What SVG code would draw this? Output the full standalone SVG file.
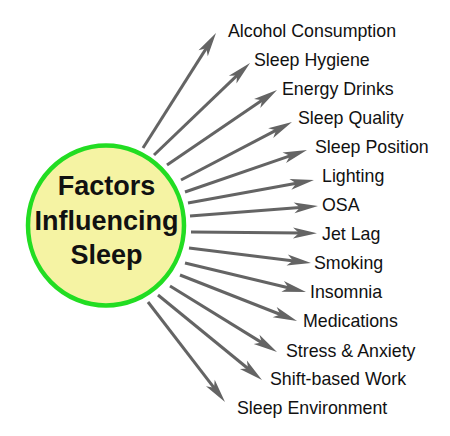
<svg xmlns="http://www.w3.org/2000/svg" width="450" height="436" viewBox="0 0 450 436">
<style>
.lbl{font-family:"Liberation Sans",Arial,sans-serif;font-size:17.8px;fill:#111}
.ctr{font-family:"Liberation Sans",Arial,sans-serif;font-size:27px;font-weight:bold;fill:#111;text-anchor:middle}
.arr{stroke:#646464;stroke-width:3;fill:none;marker-end:url(#ah)}
</style>
<defs>
<marker id="ah" markerUnits="userSpaceOnUse" viewBox="-10 -7 26 14" refX="0" refY="0" markerWidth="26" markerHeight="14" orient="auto" overflow="visible">
<path d="M15,0 L-9,-5.5 L-3,0 L-9,5.5 Z" fill="#646464"/>
</marker>
</defs>
<rect width="450" height="436" fill="#fff"/>
<g id="connectors">
<line class="arr" x1="143" y1="148" x2="207.96" y2="45.66"/>
<line class="arr" x1="154" y1="155" x2="239.17" y2="73.38"/>
<line class="arr" x1="167" y1="165" x2="264.6" y2="98.45"/>
<line class="arr" x1="181" y1="180" x2="278.7" y2="128.95"/>
<line class="arr" x1="185" y1="192" x2="292.81" y2="154.88"/>
<line class="arr" x1="188" y1="203" x2="299.24" y2="182.69"/>
<line class="arr" x1="190" y1="216" x2="303.05" y2="207.17"/>
<line class="arr" x1="191" y1="232" x2="302" y2="233.12"/>
<line class="arr" x1="189" y1="248" x2="296.11" y2="261.17"/>
<line class="arr" x1="185" y1="263" x2="291.41" y2="288.5"/>
<line class="arr" x1="180" y1="275" x2="283.04" y2="315.51"/>
<line class="arr" x1="170" y1="286" x2="264.23" y2="344.12"/>
<line class="arr" x1="158" y1="295" x2="250.38" y2="370.51"/>
<line class="arr" x1="148" y1="302" x2="215.85" y2="390.12"/>
</g>
<g id="center">
<ellipse cx="106" cy="225.5" rx="78" ry="80" fill="#f5f3a3" stroke="#22dd22" stroke-width="4.5"/>
<text class="ctr" x="106.5" y="195">Factors</text>
<text class="ctr" x="106.5" y="229.5">Influencing</text>
<text class="ctr" x="106.5" y="263.5">Sleep</text>
</g>
<g id="n1"><text class="lbl" x="228" y="37">Alcohol Consumption</text></g>
<g id="n2"><text class="lbl" x="254" y="65.5">Sleep Hygiene</text></g>
<g id="n3"><text class="lbl" x="282" y="94.5">Energy Drinks</text></g>
<g id="n4"><text class="lbl" x="298" y="123.5">Sleep Quality</text></g>
<g id="n5"><text class="lbl" x="315" y="152.5">Sleep Position</text></g>
<g id="n6"><text class="lbl" x="322" y="181.5">Lighting</text></g>
<g id="n7"><text class="lbl" x="322" y="211">OSA</text></g>
<g id="n8"><text class="lbl" x="322" y="240">Jet Lag</text></g>
<g id="n9"><text class="lbl" x="314" y="269">Smoking</text></g>
<g id="n10"><text class="lbl" x="310" y="298">Insomnia</text></g>
<g id="n11"><text class="lbl" x="303" y="327">Medications</text></g>
<g id="n12"><text class="lbl" x="286" y="356.5">Stress &amp; Anxiety</text></g>
<g id="n13"><text class="lbl" x="270" y="385">Shift-based Work</text></g>
<g id="n14"><text class="lbl" x="237" y="413.5">Sleep Environment</text></g>
</svg>
